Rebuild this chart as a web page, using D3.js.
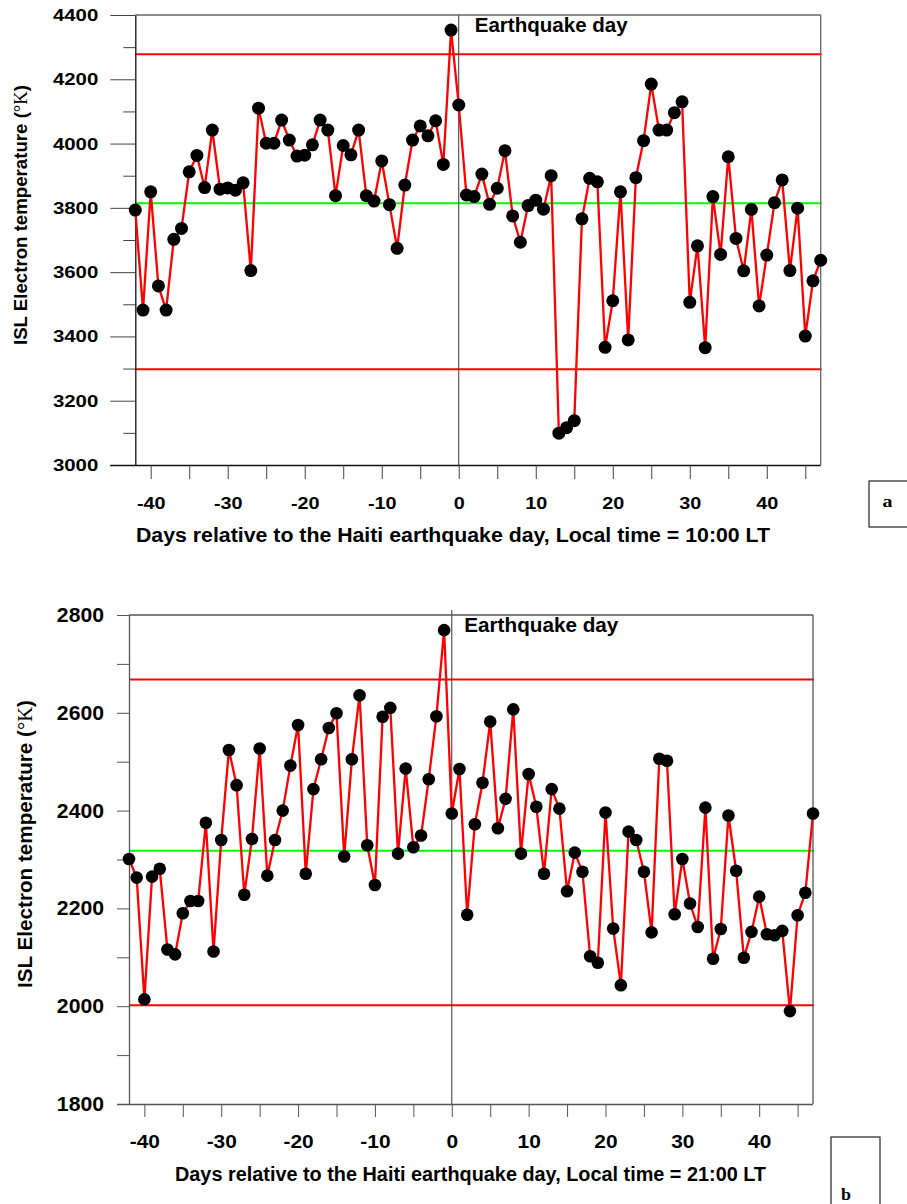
<!DOCTYPE html>
<meta charset="utf-8">
<script src="https://d3js.org/d3.v7.min.js"></script>
<style>
  body { margin: 0; background: #fff; }
  text { font-family: "Liberation Sans", Arial, sans-serif; font-weight: bold; fill: #000; }
</style>
<div id="chart"></div>
<script>

// days relative to the earthquake day
var days = [-42,-41,-40,-39,-38,-37,-36,-35,-34,-33,-32,-31,-30,-29,-28,-27,-26,-25,-24,-23,
  -22,-21,-20,-19,-18,-17,-16,-15,-14,-13,-12,-11,-10,-9,-8,-7,-6,-5,-4,-3,-2,-1,
  0,1,2,3,4,5,6,7,8,9,10,11,12,13,14,15,16,17,18,19,20,21,22,23,24,25,26,27,28,29,
  30,31,32,33,34,35,36,37,38,39,40,41,42,43,44,45,46,47];

// electron temperature at 10:00 LT (panel a)
var tempA = [3793,3482,3850,3557,3482,3702,3736,3912,3963,3863,4042,3858,3862,3855,3878,3605,4110,4001,4001,4073,
  4011,3961,3964,3996,4073,4042,3838,3994,3965,4042,3838,3821,3946,3810,3674,3871,4011,4055,4024,4071,3935,4353,
  4120,3840,3835,3905,3811,3861,3978,3775,3693,3807,3824,3796,3900,3099,3116,3138,3766,3892,3881,3366,3511,3850,3389,3894,4009,4185,4042,4042,4096,4130,
  3506,3682,3365,3835,3655,3959,3705,3604,3795,3495,3653,3816,3887,3605,3799,3401,3573,3637];

// electron temperature at 21:00 LT (panel b)
var tempB = [2301,2263,2014,2265,2281,2116,2106,2190,2215,2215,2375,2112,2340,2524,2452,2228,2342,2527,2267,2340,
  2400,2492,2575,2271,2444,2505,2569,2599,2306,2505,2636,2329,2248,2592,2610,2312,2486,2325,2349,2464,2593,2769,
  2394,2485,2187,2372,2457,2582,2364,2424,2607,2312,2475,2408,2271,2444,2404,2235,2314,2275,2102,2089,2396,2159,2043,2357,2340,2275,2151,2506,2502,2188,
  2301,2210,2162,2406,2097,2158,2390,2277,2099,2152,2224,2147,2145,2154,1990,2186,2232,2394];

// upper bound, mean, lower bound
var refA = [4278, 3814, 3298];
var refB = [2668, 2318, 2002];

var xTicks = [-40,-35,-30,-25,-20,-15,-10,-5,0,5,10,15,20,25,30,35,40,45];
var xLabels = [-40,-30,-20,-10,0,10,20,30,40];
var yLabelsA = [3000,3200,3400,3600,3800,4000,4200,4400];
var yMinorA = [3100,3300,3500,3700,3900,4100,4300];
var yLabelsB = [1800,2000,2200,2400,2600,2800];
var yMinorB = [1900,2100,2300,2500,2700];

var svg = d3.select("#chart").append("svg")
  .attr("width", 907)
  .attr("height", 1204);

// stretch text horizontally (the figure is a bit wide)
function stretch(sel, k) {
  sel.attr("lengthAdjust", "spacingAndGlyphs")
    .attr("textLength", function() { return this.getComputedTextLength() * k; });
}

function drawPanel(p) {
  var x = d3.scaleLinear().domain([-42, 47]).range([p.left, p.right]);
  var y = d3.scaleLinear().domain(p.yDomain).range([p.bottom, p.top]);
  var g = svg.append("g");

  // reference lines
  g.selectAll(".ref")
    .data(p.ref)
    .enter().append("line")
      .attr("x1", p.left).attr("x2", p.right + 1)
      .attr("y1", function(d) { return y(d); })
      .attr("y2", function(d) { return y(d); })
      .attr("stroke", function(d, i) { return i == 1 ? "#00ff00" : "#ff0000"; })
      .attr("stroke-width", 2);

  // earthquake day line
  g.append("line")
    .attr("x1", x(0)).attr("x2", x(0))
    .attr("y1", p.top - p.zeroOver).attr("y2", p.bottom)
    .attr("stroke", "#333").attr("stroke-width", 1);

  // frame top and right
  g.append("line")
    .attr("x1", p.left).attr("x2", p.right)
    .attr("y1", p.top).attr("y2", p.top)
    .attr("stroke", p.frame).attr("stroke-width", 1.3);
  g.append("line")
    .attr("x1", p.right).attr("x2", p.right)
    .attr("y1", p.top).attr("y2", p.bottom)
    .attr("stroke", p.frame).attr("stroke-width", 1.3);

  // y axis, minor ticks
  g.append("g")
    .attr("transform", "translate(" + p.left + ",0)")
    .call(d3.axisLeft(y).tickValues(p.yMinor).tickSize(p.minorTick).tickFormat("").tickSizeOuter(0))
    .call(function(a) { a.select(".domain").remove(); a.selectAll("line").attr("stroke", p.tick); });

  // y axis, labelled ticks
  var ya = g.append("g")
    .attr("transform", "translate(" + p.left + ",0)")
    .call(d3.axisLeft(y).tickValues(p.yLabels).tickSize(p.majorTick).tickPadding(p.yPad).tickSizeOuter(0)
      .tickFormat(function(d) { return String(d); }));
  ya.select(".domain").attr("stroke", p.axis).attr("stroke-width", 1.3);
  ya.selectAll("line").attr("stroke", p.tick);
  ya.selectAll("text")
    .attr("font-size", p.yFont)
    .call(stretch, p.yStretch);

  // x axis
  var xa = g.append("g")
    .attr("transform", "translate(0," + p.bottom + ")")
    .call(d3.axisBottom(x).tickValues(xTicks).tickSize(p.xTick).tickPadding(p.xPad).tickSizeOuter(0)
      .tickFormat(function(d) { return xLabels.indexOf(d) >= 0 ? String(d) : ""; }));
  xa.select(".domain").attr("d", "M" + (p.left - p.majorTick) + ",0.5H" + p.right)
    .attr("stroke", p.axis).attr("stroke-width", 1.3);
  xa.selectAll("line").attr("stroke", p.tick);
  xa.selectAll("text")
    .attr("font-size", p.xFont)
    .call(stretch, p.xStretch);

  // data line
  var line = d3.line()
    .x(function(d, i) { return x(days[i]); })
    .y(function(d) { return y(d); });
  g.append("path")
    .datum(p.data)
    .attr("d", line)
    .attr("fill", "none")
    .attr("stroke", "#ff0000")
    .attr("stroke-width", 2.3);

  g.selectAll(".dot")
    .data(p.data)
    .enter().append("circle")
      .attr("cx", function(d, i) { return x(days[i]); })
      .attr("cy", function(d) { return y(d); })
      .attr("r", p.r)
      .attr("fill", "#000");

  // earthquake day label
  g.append("text")
    .attr("x", x(0) + p.eqDx)
    .attr("y", p.eqY)
    .attr("font-size", p.eqFont)
    .attr("textLength", p.eqLen)
    .attr("lengthAdjust", "spacingAndGlyphs")
    .text("Earthquake day");

  // axis titles
  g.append("text")
    .attr("x", p.xTitleX).attr("y", p.xTitleY)
    .attr("font-size", 19.5)
    .attr("textLength", p.xTitleLen)
    .attr("lengthAdjust", "spacingAndGlyphs")
    .text(p.xTitle);

  var yt = g.append("text")
    .attr("transform", "translate(" + p.yTitleX + "," + p.yTitleY + ") rotate(-90)")
    .attr("text-anchor", "middle")
    .attr("font-size", p.yTitleFont)
    .attr("textLength", p.yTitleLen)
    .attr("lengthAdjust", "spacingAndGlyphs");
  yt.append("tspan").text("ISL Electron temperature (");
  yt.append("tspan").style("font-family", "'Liberation Serif', serif").style("font-weight", "normal").text("\u00b0K");
  yt.append("tspan").text(")");

  // panel letter box
  svg.append("rect")
    .attr("x", p.box[0]).attr("y", p.box[1])
    .attr("width", p.box[2]).attr("height", p.box[3])
    .attr("fill", "none").attr("stroke", "#333").attr("stroke-width", 1.3);
  svg.append("text")
    .attr("x", p.box[0] + p.letterDx).attr("y", p.letterY)
    .attr("text-anchor", "middle")
    .attr("font-size", 16)
    .style("font-family", "'Liberation Serif', serif")
    .attr("textLength", 10)
    .attr("lengthAdjust", "spacingAndGlyphs")
    .text(p.letter);
}

drawPanel({
  data: tempA, ref: refA, yDomain: [3000, 4400], yLabels: yLabelsA, yMinor: yMinorA,
  left: 135.3, right: 820.7, top: 15, bottom: 465,
  majorTick: 25, minorTick: 12, yPad: 12, yFont: 17, yStretch: 1.2,
  xTick: 14, xPad: 18, xFont: 16.5, xStretch: 1.2,
  axis: "#111", tick: "#444", frame: "#666", zeroOver: 0, r: 6.5,
  eqDx: 16, eqY: 32.3, eqFont: 19.5, eqLen: 153,
  xTitle: "Days relative to the Haiti earthquake day, Local time = 10:00 LT",
  xTitleX: 136, xTitleY: 542.3, xTitleLen: 634,
  yTitleX: 26.7, yTitleY: 215, yTitleFont: 19, yTitleLen: 260,
  box: [869, 481, 60, 46], letter: "a", letterDx: 18.5, letterY: 507
});

drawPanel({
  data: tempB, ref: refB, yDomain: [1800, 2800], yLabels: yLabelsB, yMinor: yMinorB,
  left: 129, right: 813, top: 615, bottom: 1104,
  majorTick: 12, minorTick: 12, yPad: 13, yFont: 20, yStretch: 1.06,
  xTick: 13, xPad: 18, xFont: 19, xStretch: 1.1,
  axis: "#555", tick: "#555", frame: "#555", zeroOver: 5, r: 6.3,
  eqDx: 12.5, eqY: 631.7, eqFont: 20, eqLen: 154,
  xTitle: "Days relative to the Haiti earthquake day, Local time = 21:00 LT",
  xTitleX: 175, xTitleY: 1180.7, xTitleLen: 591,
  yTitleX: 31.7, yTitleY: 844, yTitleFont: 20, yTitleLen: 288,
  box: [831, 1137, 49, 80], letter: "b", letterDx: 15, letterY: 1200
});

</script>
